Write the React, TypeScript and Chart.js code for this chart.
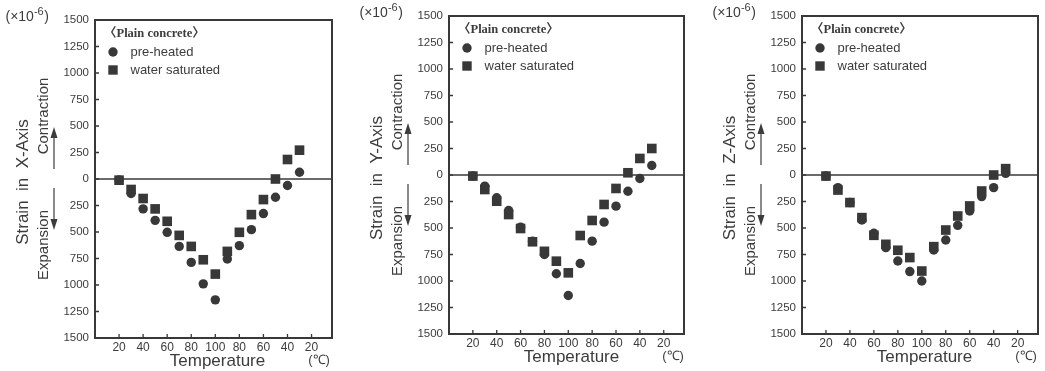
import React, { useEffect, useRef } from "react";
import { Chart, registerables } from "chart.js";

Chart.register(...registerables);

// ---------- data ----------
// temperature path of the test: heating 20 -> 100 then cooling 100 -> 30 (°C)
const tempPath = [20, 30, 40, 50, 60, 70, 80, 90, 100, 90, 80, 70, 60, 50, 40, 30];
// tick positions along the path and their labels
const xTickPositions = [20, 40, 60, 80, 100, 120, 140, 160, 180];
const xTickLabels = ["20", "40", "60", "80", "100", "80", "60", "40", "20"];
const seriesLabels = ["pre-heated", "water saturated"];
const groupLabel = "〈Plain concrete〉";

// strain (×10^-6); positive = contraction, negative = expansion
const xPreHeated = [-10, -137, -282, -390, -503, -636, -787, -989, -1140, -755, -629, -478, -326, -172, -61, 64];
const xWaterSaturated = [-11, -99, -184, -282, -399, -532, -636, -762, -897, -683, -503, -336, -194, 0, 184, 272];
const yPreHeated = [-10, -105, -215, -335, -492, -625, -750, -932, -1137, -835, -624, -445, -294, -153, -33, 90];
const yWaterSaturated = [-10, -137, -247, -373, -505, -630, -720, -813, -923, -571, -429, -278, -127, 21, 156, 250];
const zPreHeated = [-10, -119, -260, -425, -550, -685, -811, -911, -1000, -708, -613, -475, -340, -204, -119, 16];
const zWaterSaturated = [-10, -142, -260, -402, -569, -654, -710, -779, -906, -676, -519, -387, -292, -151, 0, 60];

// ---------- styling ----------
const INK = "#383838";
const TEXT = "#3c3c3c";
const SANS = '"Liberation Sans", Arial, sans-serif';

// position of each measurement along the heating/cooling path
function pathPositions(path: number[]): number[] {
  const out: number[] = [];
  let pos = path[0];
  path.forEach((t, i) => {
    if (i > 0) pos += Math.abs(t - path[i - 1]);
    out.push(pos);
  });
  return out;
}

const decorPlugin = {
  id: "panelDecor",
  beforeDatasetsDraw(chart: any, _args: any, opts: any) {
    const { ctx, chartArea: a, scales } = chart;
    const xs = scales.x;
    const ys = scales.y;
    ctx.save();
    ctx.strokeStyle = INK;
    // zero line
    const y0 = ys.getPixelForValue(0);
    ctx.lineWidth = 1.6;
    ctx.beginPath();
    ctx.moveTo(a.left, y0);
    ctx.lineTo(a.right, y0);
    ctx.stroke();
    // inward tick marks
    ctx.lineWidth = 1.3;
    ctx.beginPath();
    ys.ticks.forEach((t: any) => {
      const py = ys.getPixelForValue(t.value);
      ctx.moveTo(a.left, py);
      ctx.lineTo(a.left + 4, py);
    });
    xs.ticks.forEach((t: any) => {
      const px = xs.getPixelForValue(t.value);
      ctx.moveTo(px, a.bottom);
      ctx.lineTo(px, a.bottom - 4);
    });
    ctx.stroke();
    // frame
    ctx.lineWidth = 2;
    ctx.strokeRect(a.left, a.top, a.right - a.left, a.bottom - a.top);
    ctx.restore();
  },
  afterDraw(chart: any, _args: any, opts: any) {
    const { ctx, chartArea: a, scales } = chart;
    const y0 = scales.y.getPixelForValue(0);
    ctx.save();
    ctx.fillStyle = TEXT;
    ctx.strokeStyle = TEXT;
    ctx.textBaseline = "middle";

    // unit label (×10^-6)
    let ux = a.left - 89.5;
    const uy = a.top - 3;
    ctx.textAlign = "left";
    ctx.font = `14px ${SANS}`;
    ctx.fillText("(×10", ux, uy);
    ux += ctx.measureText("(×10").width;
    ctx.font = `11px ${SANS}`;
    ctx.fillText("-6", ux, uy - 5);
    ux += ctx.measureText("-6").width + 0.5;
    ctx.font = `14px ${SANS}`;
    ctx.fillText(")", ux, uy);

    // rotated titles
    const rot = (text: string, x: number, y: number, font: string) => {
      ctx.save();
      ctx.translate(x, y);
      ctx.rotate(-Math.PI / 2);
      ctx.textAlign = "center";
      ctx.font = font;
      ctx.fillText(text, 0, 0);
      ctx.restore();
    };
    rot(`Strain  in  ${opts.axisName}-Axis`, a.left - 72, y0 + 3, `17px ${SANS}`);
    rot("Contraction", a.left - 51, y0 - 63, `15px ${SANS}`);
    rot("Expansion", a.left - 51, y0 + 66, `15px ${SANS}`);

    // arrows
    const ax = a.left - 41;
    const arrow = (from: number, to: number) => {
      const dir = Math.sign(to - from);
      ctx.lineWidth = 1.2;
      ctx.beginPath();
      ctx.moveTo(ax, from);
      ctx.lineTo(ax, to - dir * 9);
      ctx.stroke();
      ctx.beginPath();
      ctx.moveTo(ax, to);
      ctx.lineTo(ax - 3.5, to - dir * 11);
      ctx.lineTo(ax + 3.5, to - dir * 11);
      ctx.closePath();
      ctx.fill();
    };
    arrow(y0 - 10, y0 - 52);
    arrow(y0 + 9, y0 + 51);

    // x title and unit
    ctx.textAlign = "center";
    ctx.font = `17px ${SANS}`;
    ctx.fillText("Temperature", a.left + 122.5, a.bottom + 23.5);
    ctx.font = `13px ${SANS}`;
    ctx.fillText("(℃)", a.left + 224, a.bottom + 22);

    // legend inside the plot
    ctx.textAlign = "left";
    ctx.font = `bold 12.5px "Liberation Serif", "Times New Roman", "Noto Sans CJK JP", serif`;
    ctx.fillText(groupLabel, a.left + 9, a.top + 14);
    const ds = chart.data.datasets;
    const mx = a.left + 18;
    ds.forEach((d: any, i: number) => {
      const my = a.top + 32 + i * 18;
      ctx.fillStyle = d.backgroundColor;
      ctx.beginPath();
      if (d.pointStyle === "rect") {
        ctx.rect(mx - 4.7, my - 4.7, 9.4, 9.4);
      } else {
        ctx.arc(mx, my, 4.7, 0, Math.PI * 2);
      }
      ctx.fill();
      ctx.fillStyle = TEXT;
      ctx.font = `13px ${SANS}`;
      ctx.fillText(d.label, a.left + 35.5, my);
    });
    ctx.restore();
  },
};

type PanelProps = {
  axisName: string;
  pre: number[];
  water: number[];
  left: number;
  top: number;
  areaWidth: number;
  width: number;
};

const AREA_LEFT = 95;
const AREA_TOP = 20;
const AREA_HEIGHT = 318;
const CANVAS_H = 371;

function Panel({ axisName, pre, water, left, top, areaWidth, width }: PanelProps) {
  const ref = useRef<HTMLCanvasElement | null>(null);
  useEffect(() => {
    if (!ref.current) return;
    const xs = pathPositions(tempPath);
    const chart = new Chart(ref.current, {
      type: "scatter",
      data: {
        datasets: [
          {
            label: seriesLabels[0],
            data: pre.map((v, i) => ({ x: xs[i], y: v })),
            pointStyle: "circle",
            pointRadius: 4.7,
            backgroundColor: INK,
            borderWidth: 0,
          },
          {
            label: seriesLabels[1],
            data: water.map((v, i) => ({ x: xs[i], y: v })),
            pointStyle: "rect",
            pointRadius: 6.8,
            backgroundColor: INK,
            borderWidth: 0,
          },
        ],
      },
      options: {
        responsive: false,
        animation: false,
        events: [],
        layout: {
          padding: {
            left: 0,
            top: AREA_TOP,
            right: width - AREA_LEFT - areaWidth,
            bottom: 0,
          },
        },
        scales: {
          x: {
            type: "linear",
            min: 0,
            max: 197,
            afterBuildTicks: (s: any) => {
              s.ticks = xTickPositions.map((v) => ({ value: v }));
            },
            afterFit: (s: any) => {
              s.height = CANVAS_H - AREA_TOP - AREA_HEIGHT;
            },
            ticks: {
              autoSkip: false,
              maxRotation: 0,
              padding: 2,
              color: TEXT,
              font: { family: SANS, size: 12 },
              callback: (_v: any, i: number) => xTickLabels[i],
            },
            grid: { display: false, drawTicks: false },
            border: { display: false },
          },
          y: {
            type: "linear",
            min: -1500,
            max: 1500,
            afterFit: (s: any) => {
              s.width = AREA_LEFT;
            },
            ticks: {
              stepSize: 250,
              padding: 6,
              color: TEXT,
              font: { family: SANS, size: 11.5 },
              callback: (v: any) => String(Math.abs(Number(v))),
            },
            grid: { display: false, drawTicks: false },
            border: { display: false },
          },
        },
        plugins: {
          legend: { display: false },
          tooltip: { enabled: false },
          panelDecor: { axisName },
        } as any,
      },
      plugins: [decorPlugin],
    });
    return () => chart.destroy();
  }, [axisName, pre, water, areaWidth, width]);
  return (
    <canvas
      ref={ref}
      width={width}
      height={CANVAS_H}
      style={{ position: "absolute", left, top, width, height: CANVAS_H }}
    />
  );
}

export default function App() {
  return (
    <div
      style={{
        position: "fixed",
        left: 0,
        top: 0,
        width: 1045,
        height: 371,
        overflow: "hidden",
        background: "#ffffff",
      }}
    >
      <Panel axisName="X" pre={xPreHeated} water={xWaterSaturated} left={0} top={0} areaWidth={237} width={345} />
      <Panel axisName="Y" pre={yPreHeated} water={yWaterSaturated} left={354} top={-4} areaWidth={235} width={343} />
      <Panel axisName="Z" pre={zPreHeated} water={zWaterSaturated} left={707} top={-4} areaWidth={236} width={341} />
    </div>
  );
}
